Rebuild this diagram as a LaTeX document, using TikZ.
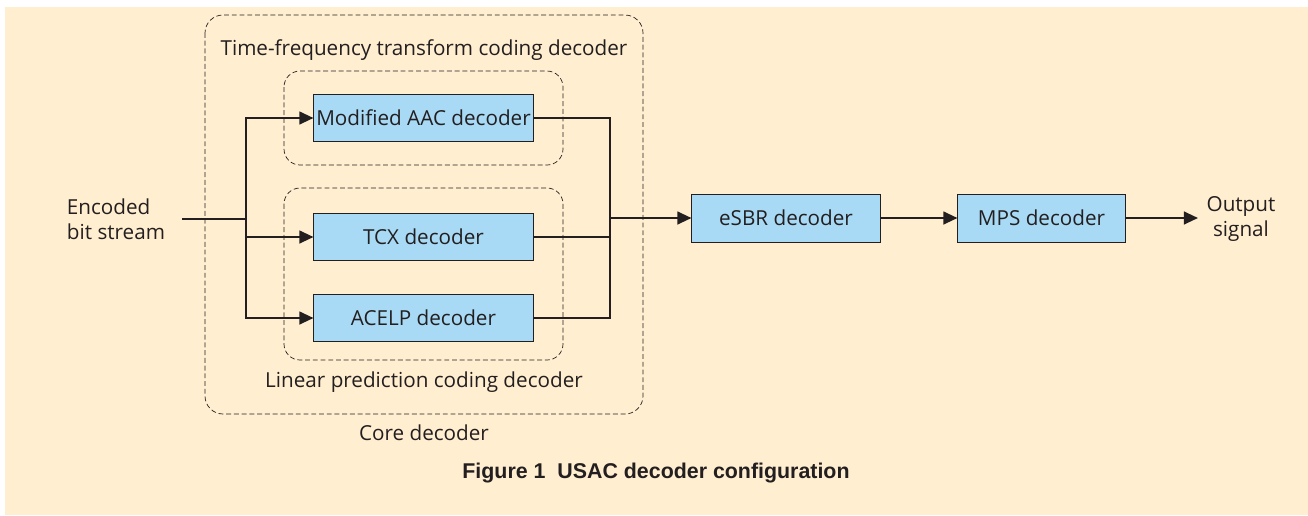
\documentclass[tikz,border=0pt]{standalone}
\usepackage{fontspec}
\setmainfont{Open Sans}
\newfontfamily\capfont{Liberation Sans}
\usetikzlibrary{positioning, arrows.meta}
\definecolor{paper}{RGB}{255,238,208}
\definecolor{boxblue}{RGB}{168,218,245}
\definecolor{ink}{RGB}{35,31,32}
\begin{document}
\begin{tikzpicture}[x=0.025cm, y=-0.025cm, font=\fontsize{14.7}{18}\selectfont,
    every node/.style={text=ink},
    block/.style={draw=ink, line width=0.7pt, fill=boxblue, minimum height=1.175cm, inner sep=0pt},
    group/.style={draw=ink, line width=0.5pt, dash pattern=on 3.5pt off 2pt, rounded corners=0.45cm},
    wire/.style={draw=ink, line width=1.6pt},
    flow/.style={wire, -{Triangle[length=10pt, width=9pt]}}]

    % page and background
    \useasboundingbox (0,0) rectangle (1308,515);
    \fill[paper] (5,7) rectangle (1308,515);

    % group boxes
    \draw[group] (205,15) rectangle (643,414); % core decoder
    \draw[group, rounded corners=0.4cm] (284,71) rectangle (563,165); % transform coding
    \draw[group, rounded corners=0.4cm] (284,188) rectangle (563,360); % linear prediction

    % decoder blocks
    \node[block, minimum width=5.475cm] (aac) at (423.5,118) {Modified AAC decoder};
    \node[block, minimum width=5.475cm] (tcx) at (423.5,237) {TCX decoder};
    \node[block, minimum width=5.475cm] (acelp) at (423.5,318) {ACELP decoder};
    \node[block, minimum width=4.7cm, minimum height=1.2cm] (esbr) at (786,218) {eSBR decoder};
    \node[block, minimum width=4.175cm, minimum height=1.2cm] (mps) at (1041.5,218) {MPS decoder};

    % labels
    \node (tftitle) at (424,50) {Time-frequency transform coding decoder};
    \node (lptitle) at (424,382) {Linear prediction coding decoder};
    \node (coretitle) at (424,433) {Core decoder};
    \node[align=left] (input) at (116,219) {Encoded\\bit stream};
    \node[align=center] (output) at (1241,219) {Output\\signal};
    \node[font=\capfont\bfseries\fontsize{15.2}{18}\selectfont] (caption) at (656,473) {Figure 1\ \ USAC decoder configuration};

    % joints
    \coordinate (src) at (182,219);
    \coordinate (split) at (246,219);
    \coordinate (merge) at (610,218);
    \coordinate (sink) at (1198,218);

    % connections
    \draw[wire] (src) -- (split);
    \draw[flow] (split) |- (aac.west);
    \draw[flow] (split) |- (tcx.west);
    \draw[flow] (split) |- (acelp.west);
    \draw[wire] (aac.east) -| (merge);
    \draw[wire] (tcx.east) -| (merge);
    \draw[wire] (acelp.east) -| (merge);
    \draw[flow] (merge) -- (esbr.west);
    \draw[flow] (esbr) -- (mps);
    \draw[flow] (mps.east) -- (sink);
\end{tikzpicture}
\end{document}
